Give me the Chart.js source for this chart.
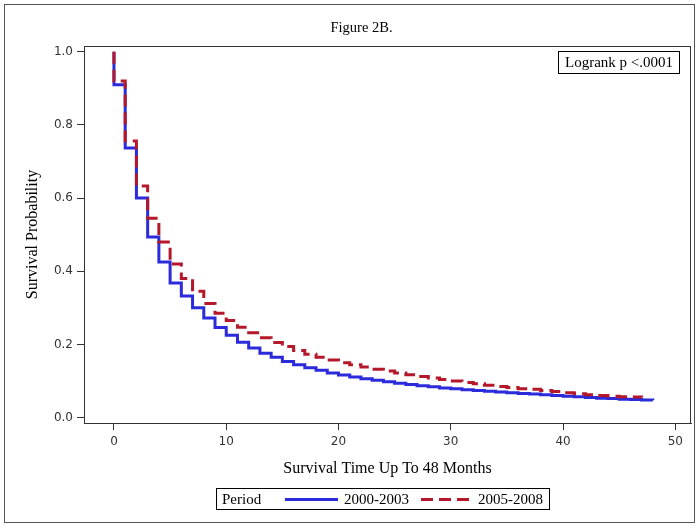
<!DOCTYPE html>
<html>
<head>
<meta charset="utf-8">
<script src="https://cdn.jsdelivr.net/npm/chart.js@4"></script>
<style>
  body { margin: 0; background: #fff; }
  #wrap { position: relative; width: 699px; height: 527px; }
  #frame { position: absolute; left: 4px; top: 4px; width: 689px; height: 517px; border: 1px solid #555; }
  #title { position: absolute; left: 12px; width: 699px; top: 19px; text-align: center;
           font: 14.5px "Liberation Serif", serif; color: #000; }
  #logrank { position: absolute; left: 558px; top: 51px; width: 120px; height: 21px; border: 1px solid #000;
             font: 15px "Liberation Serif", serif; line-height: 21px; text-align: center; color: #000; }
  #legend { position: absolute; left: 216px; top: 488px; width: 332px; height: 20px; border: 1px solid #000;
            font: 15px "Liberation Serif", serif; line-height: 20px; color: #000; }
  #legend span { position: absolute; top: 0; }
  #legend i { position: absolute; top: 9px; height: 0; border-top: 3px solid #2b2bdc; }
  #legend i.red { border-top-color: #b5172b; width: 12px; }
</style>
</head>
<body>
<div id="wrap">
  <canvas id="km" width="699" height="527"></canvas>
  <div id="frame"></div>
  <div id="title">Figure 2B.</div>
  <div id="logrank">Logrank p &lt;.0001</div>
  <div id="legend">
    <span style="left:5px">Period</span>
    <i style="left:68px;width:53px"></i>
    <span style="left:127px">2000-2003</span>
    <i class="red" style="left:204px"></i>
    <i class="red" style="left:222px"></i>
    <i class="red" style="left:240px"></i>
    <span style="left:261px">2005-2008</span>
  </div>
</div>
<script>
// survival estimates, one value per month (value after the drop at that month)
const monthsEarly = [0, 1, 2, 3, 4, 5, 6, 7, 8, 9, 10, 11, 12, 13, 14, 15, 16, 17, 18, 19, 20, 21, 22, 23, 24,
                     25, 26, 27, 28, 29, 30, 31, 32, 33, 34, 35, 36, 37, 38, 39, 40, 41, 42, 43, 44, 45, 46, 47, 48];
const surv2000 = [0.910, 0.737, 0.600, 0.494, 0.425, 0.368, 0.332, 0.300, 0.272, 0.246, 0.225, 0.206, 0.190,
                  0.176, 0.165, 0.153, 0.144, 0.136, 0.129, 0.122, 0.116, 0.111, 0.106, 0.102, 0.098, 0.094,
                  0.090, 0.087, 0.084, 0.081, 0.079, 0.076, 0.074, 0.072, 0.070, 0.068, 0.066, 0.064, 0.062,
                  0.060, 0.058, 0.057, 0.055, 0.053, 0.052, 0.050, 0.049, 0.048, 0.047];
const surv2005 = [0.920, 0.756, 0.633, 0.545, 0.480, 0.420, 0.380, 0.345, 0.312, 0.285, 0.265, 0.247, 0.232,
                  0.218, 0.205, 0.194, 0.183, 0.173, 0.165, 0.157, 0.150, 0.144, 0.138, 0.132, 0.127, 0.122,
                  0.117, 0.112, 0.108, 0.104, 0.100, 0.096, 0.092, 0.088, 0.085, 0.082, 0.079, 0.077, 0.074,
                  0.071, 0.068, 0.065, 0.062, 0.060, 0.058, 0.057, 0.056, 0.055];
const xTicks = [0, 10, 20, 30, 40, 50];
const yTicks = [0.0, 0.2, 0.4, 0.6, 0.8, 1.0];

const toSteps = (surv) => [{ x: 0, y: 1.0 }].concat(surv.map((s, i) => ({ x: monthsEarly[i], y: s })));

// box round the plot area
const plotBox = {
    id: 'plotBox',
    afterDraw(chart) {
        const { ctx, chartArea: a } = chart;
        ctx.save();
        ctx.strokeStyle = '#333';
        ctx.lineWidth = 1;
        ctx.strokeRect(a.left + 0.5, a.top + 0.5, a.right - a.left - 1, a.bottom - a.top);
        ctx.restore();
    }
};

const tickFont = { family: 'DejaVu Sans', size: 12 };
const titleFont = { family: 'Liberation Serif', size: 16 };

new Chart(document.getElementById('km').getContext('2d'), {
    type: 'line',
    data: {
        datasets: [{
            label: '2000-2003',
            data: toSteps(surv2000),
            borderColor: '#2b2bdc',
            borderWidth: 3,
            stepped: true,
            pointRadius: 0,
            order: 1
        }, {
            label: '2005-2008',
            data: toSteps(surv2005),
            borderColor: '#b5172b',
            borderWidth: 3,
            borderDash: [12, 6],
            stepped: true,
            pointRadius: 0,
            order: 0
        }]
    },
    options: {
        responsive: false,
        animation: false,
        layout: { padding: { left: 0, top: 46, right: 8, bottom: 0 } },
        plugins: { legend: { display: false }, tooltip: { enabled: false } },
        scales: {
            x: {
                type: 'linear',
                min: -2.67,
                max: 51.4,
                afterBuildTicks: s => { s.ticks = xTicks.map(v => ({ value: v })); },
                afterFit: s => { s.height = 104; },
                grid: { drawOnChartArea: false, tickLength: 7, color: '#333' },
                border: { color: '#333' },
                ticks: { font: tickFont, color: '#333', padding: 5 },
                title: { display: true, text: 'Survival Time Up To 48 Months', font: titleFont, color: '#000',
                         padding: { top: 4, bottom: 49 } }
            },
            y: {
                min: -0.015,
                max: 1.016,
                afterBuildTicks: s => { s.ticks = yTicks.map(v => ({ value: v })); },
                afterFit: s => { s.width = 84; },
                grid: { drawOnChartArea: false, tickLength: 7, color: '#333' },
                border: { color: '#333' },
                ticks: { font: tickFont, color: '#333', padding: 4, callback: v => v.toFixed(1) },
                title: { display: true, text: 'Survival Probability', font: titleFont, color: '#000',
                         padding: { top: 23, bottom: 4 } }
            }
        }
    },
    plugins: [plotBox]
});
</script>
</body>
</html>
